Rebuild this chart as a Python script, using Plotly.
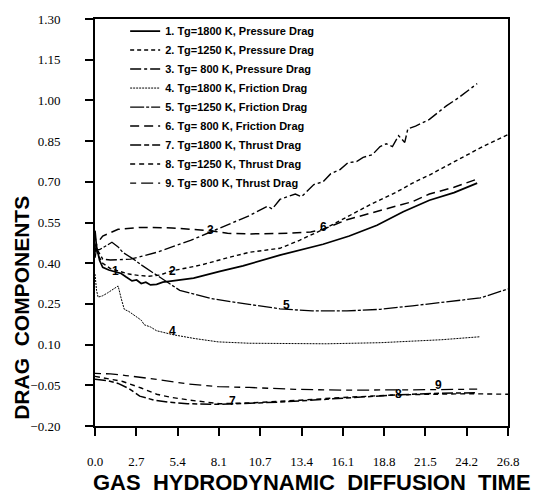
import plotly.graph_objects as go

# ---------------- data ----------------
x_tick_labels = ["0.0", "2.7", "5.4", "8.1", "10.7", "13.4", "16.1", "18.8", "21.5", "24.2", "26.8"]
x_max = 26.8

names = [
    "1. Tg=1800 K, Pressure Drag",
    "2. Tg=1250 K, Pressure Drag",
    "3. Tg= 800 K, Pressure Drag",
    "4. Tg=1800 K, Friction Drag",
    "5. Tg=1250 K, Friction Drag",
    "6. Tg= 800 K, Friction Drag",
    "7. Tg=1800 K, Thrust Drag",
    "8. Tg=1250 K, Thrust Drag",
    "9. Tg= 800 K, Thrust Drag",
]

x1 = [0, 0.1, 0.3, 0.5, 0.9, 1.3, 1.7, 2.0, 2.4, 2.7, 3.0, 3.3, 3.6, 4.0, 4.4, 4.8, 5.4, 6.4, 8.1, 9.6, 12.0, 13.3, 14.8, 16.5, 18.3, 20.0, 21.7, 23.3, 24.8]
y1 = [0.52, 0.46, 0.41, 0.385, 0.375, 0.368, 0.362, 0.35, 0.335, 0.338, 0.325, 0.33, 0.32, 0.322, 0.33, 0.333, 0.338, 0.345, 0.37, 0.39, 0.43, 0.448, 0.47, 0.50, 0.54, 0.59, 0.632, 0.66, 0.695]

x2 = [0, 0.2, 0.5, 1.0, 1.6, 2.2, 2.8, 3.5, 4.2, 5.0, 6.0, 7.0, 8.6, 10.0, 12.0, 13.3, 15.0, 16.5, 18.0, 19.5, 20.6, 21.7, 23.5, 25.0, 26.8]
y2 = [0.50, 0.43, 0.40, 0.38, 0.37, 0.36, 0.355, 0.352, 0.356, 0.372, 0.383, 0.395, 0.42, 0.44, 0.455, 0.485, 0.53, 0.575, 0.62, 0.66, 0.695, 0.725, 0.78, 0.825, 0.874]

x3 = [0, 0.2, 0.5, 1.0, 1.6, 2.3, 3.0, 4.0, 5.0, 6.2, 7.5, 8.5, 10.0, 11.2, 11.5, 12.0, 13.0, 13.4, 14.2, 14.8, 15.3, 15.9, 16.4, 17.0, 17.4, 18.0, 18.5, 18.9, 19.3, 19.7, 20.1, 20.3, 20.8, 21.7, 22.8, 23.6, 24.8]
y3 = [0.47, 0.445, 0.415, 0.412, 0.413, 0.415, 0.425, 0.44, 0.46, 0.484, 0.515, 0.54, 0.575, 0.61, 0.60, 0.635, 0.655, 0.645, 0.69, 0.70, 0.73, 0.745, 0.77, 0.775, 0.79, 0.80, 0.83, 0.84, 0.83, 0.87, 0.845, 0.895, 0.905, 0.93, 0.98, 1.01, 1.062]

x4 = [0, 0.1, 0.2, 0.5, 0.8, 1.2, 1.5, 1.7, 1.9, 2.2, 2.5, 2.8, 3.0, 3.2, 3.6, 4.0, 5.1, 6.5, 8.0, 10.0, 12.0, 15.0, 18.5, 20.6, 22.5, 25.0]
y4 = [0.36, 0.30, 0.275, 0.28, 0.29, 0.305, 0.316, 0.27, 0.23, 0.222, 0.21, 0.20, 0.19, 0.173, 0.165, 0.151, 0.136, 0.122, 0.11, 0.105, 0.104, 0.103, 0.107, 0.112, 0.118, 0.129]

x5 = [0, 0.1, 0.3, 0.7, 1.1, 1.5, 1.8, 2.5, 3.1, 4.0, 5.5, 7.5, 8.6, 10.0, 12.0, 14.1, 16.35, 18.5, 20.6, 23.0, 25.0, 26.8]
y5 = [0.42, 0.45, 0.45, 0.465, 0.477, 0.46, 0.44, 0.415, 0.39, 0.356, 0.30, 0.27, 0.26, 0.248, 0.232, 0.224, 0.224, 0.23, 0.243, 0.258, 0.272, 0.305]

x6 = [0, 0.1, 0.5, 1.5, 3.0, 5.0, 7.5, 8.6, 10.0, 12.5, 14.0, 14.8, 16.35, 18.0, 19.8, 20.6, 21.7, 23.3, 24.8]
y6 = [0.44, 0.47, 0.50, 0.525, 0.532, 0.53, 0.52, 0.51, 0.508, 0.51, 0.515, 0.525, 0.56, 0.585, 0.615, 0.627, 0.655, 0.68, 0.71]

x7 = [0, 0.8, 1.5, 2.2, 2.9, 3.8, 4.7, 6.0, 8.1, 10.0, 12.0, 15.4, 18.0, 19.7, 22.0, 24.8]
y7 = [-0.028, -0.033, -0.043, -0.062, -0.09, -0.104, -0.112, -0.118, -0.12, -0.117, -0.112, -0.10, -0.09, -0.085, -0.08, -0.077]

x8 = [0, 1.0, 1.8, 3.0, 4.0, 5.0, 6.2, 8.1, 10.0, 13.3, 16.0, 19.7, 22.0, 24.2, 26.8]
y8 = [-0.017, -0.028, -0.036, -0.06, -0.083, -0.095, -0.105, -0.118, -0.115, -0.105, -0.095, -0.085, -0.082, -0.081, -0.083]

x9 = [0, 1.0, 2.0, 4.0, 6.0, 8.0, 10.0, 13.0, 16.0, 19.8, 22.3, 24.8]
y9 = [-0.006, -0.008, -0.014, -0.028, -0.045, -0.055, -0.058, -0.065, -0.068, -0.068, -0.066, -0.064]

label_text = ["1", "2", "3", "4", "5", "6", "7", "8", "9"]
label_x = [1.3, 5.06, 7.5, 5.06, 12.4, 14.8, 8.9, 19.7, 22.3]
label_y = [0.372, 0.372, 0.522, 0.15, 0.245, 0.535, -0.108, -0.082, -0.05]

# ---------------- styles ----------------
styles = [
    dict(width=1.7, dash="solid"),
    dict(width=1.4, dash="4px,3px"),
    dict(width=1.4, dash="11px,3px,3px,3px"),
    dict(width=1.0, dash="2px,1px"),
    dict(width=1.3, dash="14px,2px,3px,2px"),
    dict(width=1.5, dash="9px,5px"),
    dict(width=1.5, dash="11px,3px,5px,3px"),
    dict(width=1.4, dash="5px,4px"),
    dict(width=1.3, dash="6px,5px,12px,5px"),
]

xs = [x1, x2, x3, x4, x5, x6, x7, x8, x9]
ys = [y1, y2, y3, y4, y5, y6, y7, y8, y9]

fig = go.Figure()
for name, xx, yy, st in zip(names, xs, ys, styles):
    fig.add_trace(go.Scatter(x=xx, y=yy, mode="lines", name="<b>%s</b>" % name,
                             line=dict(color="black", width=st["width"], dash=st["dash"])))

for t, lx, ly in zip(label_text, label_x, label_y):
    fig.add_annotation(x=lx, y=ly, text="<b>%s</b>" % t, showarrow=False,
                       font=dict(family="Liberation Sans, Arial", size=12, color="black"))

# axis titles
fig.add_annotation(xref="paper", yref="paper", x=-0.177, y=0.29, text="<b>DRAG  COMPONENTS</b>",
                   textangle=-90, showarrow=False, xanchor="center", yanchor="middle",
                   font=dict(family="Liberation Sans, Arial", size=21, color="black"))
fig.add_annotation(xref="paper", yref="paper", x=0.525, y=-0.139,
                   text="<b>GAS  HYDRODYNAMIC  DIFFUSION  TIME</b>",
                   showarrow=False, xanchor="center", yanchor="middle",
                   font=dict(family="Liberation Sans, Arial", size=22, color="black"))

tickfont = dict(family="Times New Roman, Liberation Serif, serif", size=13, color="black")

fig.update_layout(
    width=534, height=497,
    margin=dict(l=95, r=26, t=16, b=71),
    paper_bgcolor="white", plot_bgcolor="white",
    showlegend=True,
    legend=dict(x=0.073, y=1.006, xanchor="left", yanchor="top",
                bgcolor="rgba(0,0,0,0)", borderwidth=0,
                font=dict(family="Liberation Sans, Arial", size=11, color="black"),
                tracegroupgap=0, itemwidth=30),
    xaxis=dict(range=[0, x_max], tickvals=[x_max * i / 10 for i in range(len(x_tick_labels))],
               ticktext=x_tick_labels, showgrid=False, zeroline=False,
               showline=True, linecolor="black", linewidth=2, mirror=True,
               ticks="outside", ticklen=8, tickwidth=1.5, tickcolor="black",
               tickfont=tickfont, ticklabelstandoff=14),
    yaxis=dict(range=[-0.20, 1.30], tickvals=[-0.20 + 0.15 * i for i in range(11)],
               tickformat=".2f", showgrid=False, zeroline=False,
               showline=True, linecolor="black", linewidth=2, mirror=True,
               ticks="outside", ticklen=8, tickwidth=1.5, tickcolor="black",
               tickfont=tickfont, ticklabelstandoff=22),
)

fig.write_html("out.html")
